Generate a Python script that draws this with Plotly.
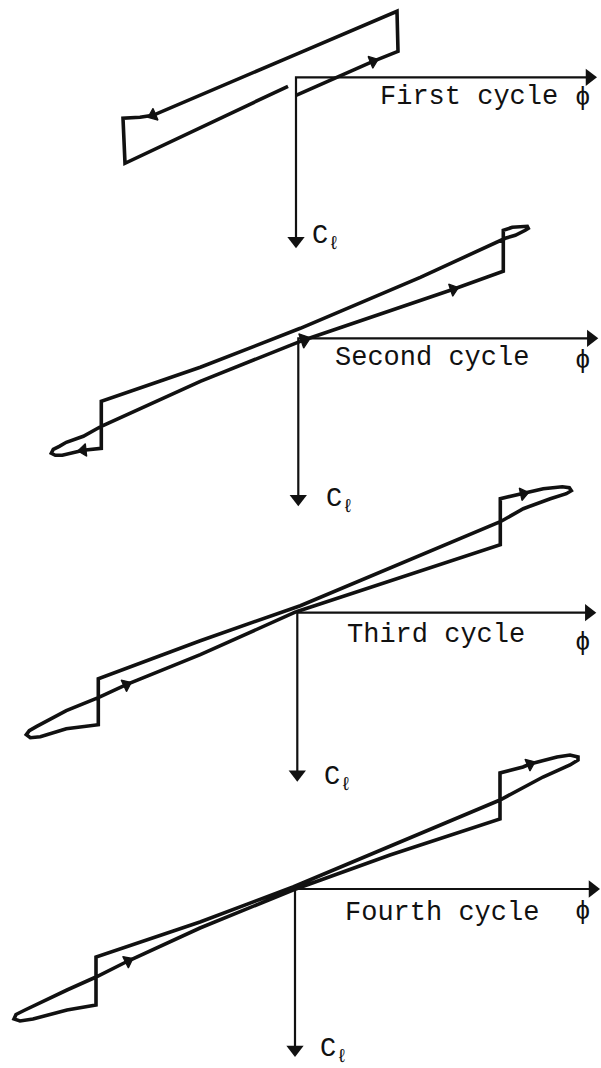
import math
import plotly.graph_objects as go

# Roll-angle (phi) vs rolling-moment coefficient (C_l) loops, one per cycle.
# Each loop is listed in the order it is traversed.

# First cycle
c1_phi = [0.00, 0.77, 1.02, 1.01, 0.00, -0.96, -1.43, -1.56, -1.73, -1.71, -0.08]
c1_cl = [0.18, -0.16, -0.26, -0.66, -0.23, 0.18, 0.38, 0.40, 0.41, 0.86, 0.09]
c1_arrow_phi = [0.77, -1.43]
c1_arrow_cl = [-0.16, 0.38]

# Second cycle
c2_phi = [0.02, 1.55, 2.05, 2.05, 2.14, 2.24, 2.29, 2.30, 2.27, 2.17, 2.07, 1.22, 0.02,
          -0.98, -1.97, -1.97, -2.15, -2.36, -2.43, -2.47, -2.45, -2.39, -2.32, -2.15, -1.97,
          -0.98, 0.02]
c2_cl = [0.03, -0.49, -0.67, -1.08, -1.11, -1.12, -1.12, -1.10, -1.08, -1.03, -1.00, -0.61, -0.10,
         0.29, 0.63, 1.10, 1.12, 1.17, 1.17, 1.15, 1.11, 1.08, 1.04, 0.98, 0.88,
         0.43, 0.03]
c2_arrow_phi = [0.06, 1.55, -2.15]
c2_arrow_cl = [0.016, -0.49, 1.12]

# Third cycle
c3_phi = [-0.01, 2.03, 2.03, 2.26, 2.46, 2.65, 2.72, 2.74, 2.69, 2.53, 2.26, 2.03, 0.03, -0.97,
          -1.99, -1.99, -2.31, -2.57, -2.67, -2.71, -2.68, -2.61, -2.47, -2.31, -1.99, -1.71,
          -0.97, -0.01]
c3_cl = [-0.01, -0.68, -1.14, -1.19, -1.24, -1.26, -1.25, -1.22, -1.19, -1.14, -1.04, -0.91, -0.07,
         0.28, 0.66, 1.12, 1.16, 1.24, 1.25, 1.22, 1.18, 1.14, 1.07, 0.98, 0.85, 0.72,
         0.42, -0.01]
c3_arrow_phi = [-1.71, 2.26]
c3_arrow_cl = [0.72, -1.19]

# Fourth cycle
c4_phi = [-0.02, 0.95, 2.05, 2.05, 2.28, 2.35, 2.62, 2.75, 2.83, 2.83, 2.75, 2.48, 2.05, 0.95,
          -0.02, -0.95, -1.99, -1.99, -2.28, -2.62, -2.75, -2.81, -2.79, -2.70, -2.62, -2.28,
          -1.99, -1.67, -0.95, -0.02]
c4_cl = [0.01, -0.34, -0.70, -1.16, -1.22, -1.25, -1.32, -1.34, -1.32, -1.29, -1.24, -1.12, -0.89,
         -0.43, -0.02, 0.33, 0.68, 1.16, 1.21, 1.30, 1.32, 1.30, 1.255, 1.21, 1.17, 1.01,
         0.88, 0.72, 0.39, 0.01]
c4_arrow_phi = [-1.67, 2.35]
c4_arrow_cl = [0.72, -1.25]

cycle_names = ["First cycle", "Second cycle", "Third cycle", "Fourth cycle"]

# ---------------------------------------------------------------------------
W, H = 601, 1068
PX = 100.0  # pixels per unit on both axes

panels = [
    dict(phi=c1_phi, cl=c1_cl, aphi=c1_arrow_phi, acl=c1_arrow_cl,
         origin=(296.0, 77.3), phi_tip=3.01, cl_tip=1.71,
         text=(0.82, 0.20), sym=(2.87, 0.21), clab=(0.14, 1.61)),
    dict(phi=c2_phi, cl=c2_cl, aphi=c2_arrow_phi, acl=c2_arrow_cl,
         origin=(298.3, 338.3), phi_tip=3.00, cl_tip=1.68,
         text=(0.35, 0.20), sym=(2.85, 0.23), clab=(0.26, 1.63)),
    dict(phi=c3_phi, cl=c3_cl, aphi=c3_arrow_phi, acl=c3_arrow_cl,
         origin=(297.3, 612.7), phi_tip=2.99, cl_tip=1.69,
         text=(0.48, 0.22), sym=(2.86, 0.30), clab=(0.25, 1.66)),
    dict(phi=c4_phi, cl=c4_cl, aphi=c4_arrow_phi, acl=c4_arrow_cl,
         origin=(295.0, 889.0), phi_tip=3.05, cl_tip=1.68,
         text=(0.48, 0.24), sym=(2.88, 0.23), clab=(0.23, 1.62)),
]

INK = "#111111"
FONT = "Liberation Mono, Courier New, DejaVu Sans Mono, monospace"
HEAD = 15                    # axis arrowhead marker size (px)
HEAD_BACK = HEAD / 2 / PX    # distance from arrowhead centre to its tip (data units)


def path_direction(px, py, qx, qy):
    """Screen angle (deg, clockwise from up) of the path segment nearest (qx, qy)."""
    best, ang = None, 0.0
    for i in range(len(px) - 1):
        x0, y0, x1, y1 = px[i], py[i], px[i + 1], py[i + 1]
        dx, dy = x1 - x0, y1 - y0
        L2 = dx * dx + dy * dy
        if L2 == 0:
            continue
        t = max(0.0, min(1.0, ((qx - x0) * dx + (qy - y0) * dy) / L2))
        d = (x0 + t * dx - qx) ** 2 + (y0 + t * dy - qy) ** 2
        if best is None or d < best:
            best = d
            # C_l grows downward on screen, so dy is already a screen offset
            ang = math.degrees(math.atan2(dx, -dy))
    return ang


fig = go.Figure()
annotations = []
layout_axes = {}

for k, p in enumerate(panels, start=1):
    xa = "x" if k == 1 else f"x{k}"
    ya = "y" if k == 1 else f"y{k}"
    ox, oy = p["origin"]
    layout_axes["xaxis" if k == 1 else f"xaxis{k}"] = dict(
        domain=[0, 1], range=[-ox / PX, (W - ox) / PX], anchor=ya,
        visible=False, fixedrange=True)
    layout_axes["yaxis" if k == 1 else f"yaxis{k}"] = dict(
        domain=[0, 1], range=[(H - oy) / PX, -oy / PX], anchor=xa,
        visible=False, fixedrange=True)

    # phi axis (to the right) and C_l axis (downward), drawn as an L
    fig.add_trace(go.Scatter(
        x=[p["phi_tip"] - HEAD_BACK, 0.0, 0.0],
        y=[0.0, 0.0, p["cl_tip"] - HEAD_BACK],
        xaxis=xa, yaxis=ya, mode="lines",
        line=dict(color=INK, width=2.2), hoverinfo="skip", showlegend=False))
    fig.add_trace(go.Scatter(
        x=[p["phi_tip"] - HEAD_BACK, 0.0], y=[0.0, p["cl_tip"] - HEAD_BACK],
        xaxis=xa, yaxis=ya, mode="markers",
        marker=dict(symbol="triangle-up", size=HEAD, color=INK, angle=[90, 180],
                    line=dict(width=0)),
        hoverinfo="skip", showlegend=False))

    # the loop itself
    fig.add_trace(go.Scatter(
        x=p["phi"], y=p["cl"], xaxis=xa, yaxis=ya, mode="lines",
        line=dict(color=INK, width=3.6), hoverinfo="skip", showlegend=False))

    # direction-of-travel arrowheads on the loop
    for i, (ax_, ay_) in enumerate(zip(p["aphi"], p["acl"])):
        ang = path_direction(p["phi"], p["cl"], ax_, ay_)
        size = 13 if (k == 2 and i == 0) else 11
        fig.add_trace(go.Scatter(
            x=[ax_], y=[ay_], xaxis=xa, yaxis=ya, mode="markers",
            marker=dict(symbol="triangle-up", size=size, color=INK, angle=ang,
                        opacity=1, line=dict(width=1.2, color=INK)),
            hoverinfo="skip", showlegend=False))

    annotations.append(dict(
        x=p["text"][0], y=p["text"][1], xref=xa, yref=ya, text=cycle_names[k - 1],
        showarrow=False, xanchor="left", yanchor="middle",
        font=dict(family=FONT, size=27, color=INK)))
    annotations.append(dict(
        x=p["sym"][0], y=p["sym"][1], xref=xa, yref=ya, text="ϕ",
        showarrow=False, xanchor="center", yanchor="middle",
        font=dict(family=FONT, size=26, color=INK)))
    annotations.append(dict(
        x=p["clab"][0], y=p["clab"][1], xref=xa, yref=ya,
        text="C<sub>ℓ</sub>", showarrow=False, xanchor="left", yanchor="middle",
        font=dict(family=FONT, size=27, color=INK)))

fig.update_layout(
    width=W, height=H, margin=dict(l=0, r=0, t=0, b=0),
    paper_bgcolor="white", plot_bgcolor="rgba(0,0,0,0)",
    showlegend=False, annotations=annotations, **layout_axes)

fig.write_html("out.html")
